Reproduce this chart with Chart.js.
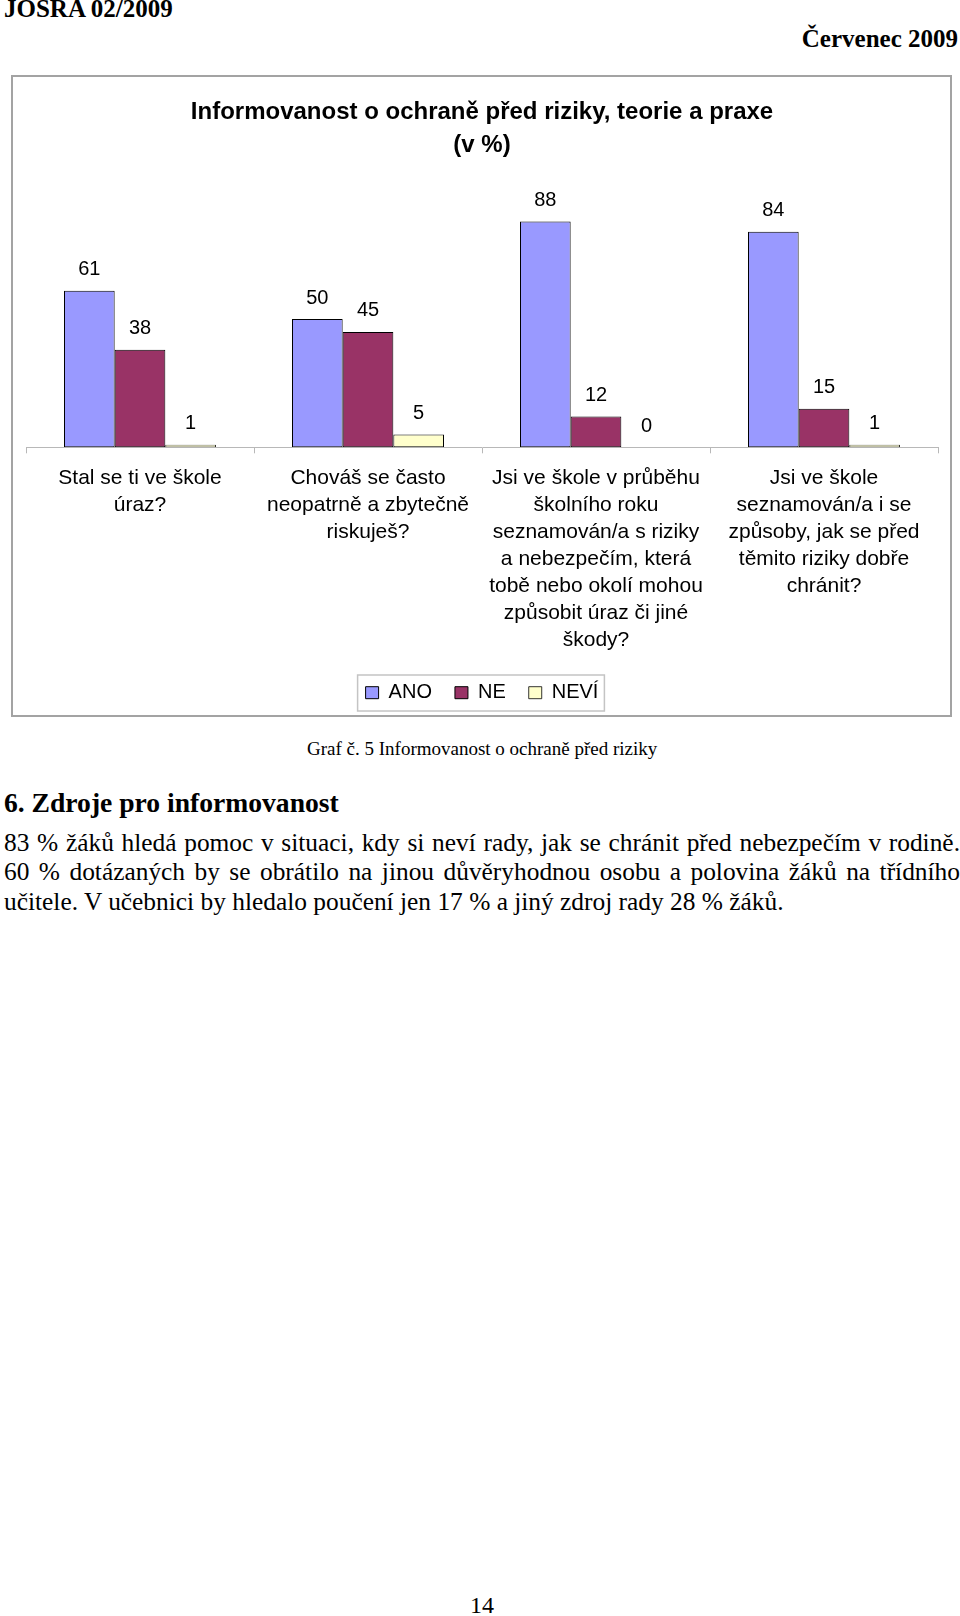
<!DOCTYPE html>
<html>
<head>
<meta charset="utf-8">
<script src="https://cdn.jsdelivr.net/npm/chart.js@4.4.1/dist/chart.umd.min.js"></script>
<style>
  html, body { margin:0; padding:0; background:#fff; }
  body { width:960px; height:1616px; position:relative; overflow:hidden; font-family:"Liberation Serif","Times New Roman",serif; color:#000; }
  .abs { position:absolute; white-space:nowrap; line-height:1; }
  #frame { position:absolute; left:11px; top:75px; width:941px; height:642px; border:2px solid #a3a3a3; box-sizing:border-box; }
  #wrap { position:relative; width:937px; height:638px; }
  .body-line { position:absolute; left:4px; width:956px; font-size:25.4px; line-height:29.4px; white-space:nowrap; }
  .just { text-align:justify; text-align-last:justify; }
</style>
</head>
<body>
<div class="abs" style="left:4px; top:-4px; font-size:25px; font-weight:bold;">JOSRA 02/2009</div>
<div class="abs" style="right:2px; top:26px; font-size:25px; font-weight:bold;">Červenec 2009</div>

<div id="frame"><div id="wrap"><canvas id="c"></canvas></div></div>

<div class="abs" style="left:307px; top:739px; font-size:19px;">Graf č. 5 Informovanost o ochraně před riziky</div>
<div class="abs" style="left:4px; top:788.5px; font-size:27.6px; font-weight:bold;">6. Zdroje pro informovanost</div>
<div class="body-line just" style="top:828px;">83 % žáků hledá pomoc v situaci, kdy si neví rady, jak se chránit před nebezpečím v rodině.</div>
<div class="body-line just" style="top:857.4px;">60 % dotázaných by se obrátilo na jinou důvěryhodnou osobu a polovina žáků na třídního</div>
<div class="body-line" style="top:886.8px;">učitele. V učebnici by hledalo poučení jen 17 % a jiný zdroj rady 28 % žáků.</div>
<div class="abs" style="left:470px; top:1593px; font-size:24px;">14</div>

<script>
const chartTitle = ["Informovanost o ochraně před riziky, teorie a praxe", "(v %)"];
const categories = [
  ["Stal se ti ve škole", "úraz?"],
  ["Chováš se často", "neopatrně a zbytečně", "riskuješ?"],
  ["Jsi ve škole v průběhu", "školního roku", "seznamován/a s riziky", "a nebezpečím, která", "tobě nebo okolí mohou", "způsobit úraz či jiné", "škody?"],
  ["Jsi ve škole", "seznamován/a i se", "způsoby, jak se před", "těmito riziky dobře", "chránit?"]
];
const seriesNames = ["ANO", "NE", "NEVÍ"];
const anoValues = [61, 50, 88, 84];
const neValues = [38, 45, 12, 15];
const neviValues = [1, 5, 0, 1];
const seriesColors = ["#9999FF", "#993366", "#FFFFCC"];

const SANS = "'Liberation Sans', Arial, sans-serif";

const dataLabels = {
  id: 'dataLabels',
  afterDatasetsDraw(chart) {
    const ctx = chart.ctx;
    ctx.save();
    ctx.font = "20px " + SANS;
    ctx.fillStyle = "#000";
    ctx.textAlign = "center";
    ctx.textBaseline = "middle";
    chart.data.datasets.forEach((ds, di) => {
      const meta = chart.getDatasetMeta(di);
      meta.data.forEach((el, i) => {
        ctx.fillText(String(ds.data[i]), el.x, el.y - 21);
      });
    });
    ctx.restore();
  }
};

const legendBorder = {
  id: 'legendBorder',
  afterDraw(chart) {
    const lg = chart.legend;
    if (!lg || !lg.legendHitBoxes || !lg.legendHitBoxes.length) return;
    const hb = lg.legendHitBoxes;
    const first = hb[0], last = hb[hb.length - 1];
    const ctx = chart.ctx;
    const left = first.left - 8;
    const right = last.left + last.width + 6;
    const top = first.top - 7.7;
    const bottom = first.top + 28.3;
    ctx.save();
    ctx.strokeStyle = "#c4c4c4";
    ctx.lineWidth = 1.5;
    ctx.strokeRect(left, top, right - left, bottom - top);
    ctx.restore();
  }
};

const valueSeries = [anoValues, neValues, neviValues];

new Chart(document.getElementById('c'), {
  type: 'bar',
  data: {
    labels: categories,
    datasets: seriesNames.map((name, i) => ({
      label: name,
      data: valueSeries[i],
      backgroundColor: seriesColors[i],
      borderColor: "#000",
      borderWidth: (c) => (c.raw === 0 ? 0 : (c.raw <= 1 ? 0.8 : 1)),
      borderSkipped: false,
      categoryPercentage: 3 / 4.5,
      barPercentage: 1
    }))
  },
  options: {
    responsive: true,
    maintainAspectRatio: false,
    animation: false,
    layout: { padding: { top: 0, bottom: 2.3, left: 13, right: 12 } },
    plugins: {
      title: {
        display: true,
        text: chartTitle,
        color: "#000",
        font: { family: SANS, size: 24, weight: 'bold', lineHeight: 1.375 },
        padding: { top: 18.7, bottom: 29.1 }
      },
      legend: {
        display: true,
        position: 'bottom',
        labels: {
          color: "#000",
          font: { family: SANS, size: 20 },
          boxWidth: 13,
          boxHeight: 12,
          padding: 23
        }
      },
      tooltip: { enabled: false }
    },
    scales: {
      x: {
        offset: true,
        grid: { display: true, offset: true, drawOnChartArea: false, drawTicks: true, tickLength: 6, color: "#b8b8b8", lineWidth: 1 },
        border: { display: true, color: "#b8b8b8", width: 1 },
        ticks: {
          color: "#000",
          font: { family: SANS, size: 21, lineHeight: 27.1 / 21 },
          padding: 11,
          autoSkip: false,
          maxRotation: 0,
          minRotation: 0
        },
        afterFit(scale) { scale.height = 212.4; }
      },
      y: {
        display: false,
        min: 0,
        max: 100,
        beginAtZero: true
      }
    }
  },
  plugins: [dataLabels, legendBorder]
});
</script>
</body>
</html>
